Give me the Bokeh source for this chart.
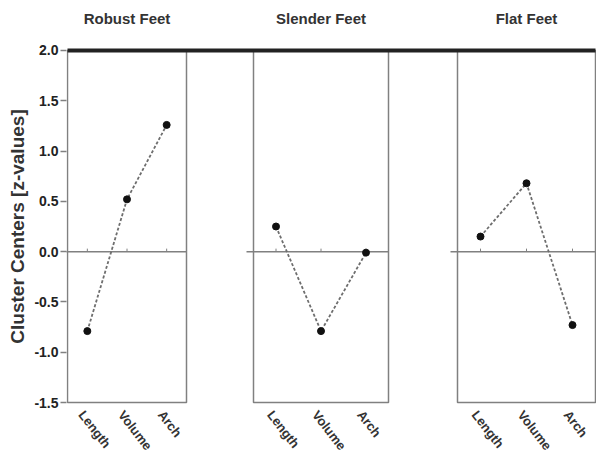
from bokeh.plotting import figure
from bokeh.models import Range1d, FixedTicker, PrintfTickFormatter
from bokeh.core.properties import value
from bokeh.embed import file_html
from bokeh.resources import INLINE

# ---- data ----
panels = ["Robust Feet", "Slender Feet", "Flat Feet"]
variables = ["Length", "Volume", "Arch"]
robust = [-0.79, 0.52, 1.26]
slender = [0.25, -0.79, -0.01]
flat = [0.15, 0.68, -0.73]
series = [robust, slender, flat]
y_ticks = [-1.5, -1.0, -0.5, 0.0, 0.5, 1.0, 1.5, 2.0]

# ---- layout (x in screen-pixel-like units) ----
panel_bounds = [(0, 119), (186, 321), (390, 528)]
y_lo, y_hi = -1.5, 2.0
FONT = value("Liberation Sans")

p = figure(width=596, height=452, output_backend="svg", toolbar_location=None,
           x_range=Range1d(-1, 529), y_range=Range1d(-1.997, 2.497),
           min_border_left=66, min_border_right=0, min_border_top=0, min_border_bottom=0)
p.outline_line_color = None
p.grid.visible = False
p.xaxis.visible = False
p.background_fill_color = "white"
p.border_fill_color = "white"

ya = p.yaxis[0]
ya.ticker = FixedTicker(ticks=y_ticks)
ya.formatter = PrintfTickFormatter(format="%.1f")
ya.axis_line_color = None
ya.major_tick_out = 6
ya.major_tick_in = 0
ya.minor_tick_out = 0
ya.minor_tick_in = 0
ya.major_tick_line_color = "#808080"
ya.major_tick_line_width = 1.5
ya.major_label_standoff = 2
ya.major_label_text_font = "Liberation Sans"
ya.major_label_text_font_style = "bold"
ya.major_label_text_font_size = "14px"
ya.major_label_text_color = "#222222"
ya.axis_label = "Cluster Centers [z-values]"
ya.axis_label_text_font = "Liberation Sans"
ya.axis_label_text_font_style = "bold"
ya.axis_label_text_font_size = "19px"
ya.axis_label_text_color = "#333333"
ya.axis_label_standoff = 3

lefts = [b[0] for b in panel_bounds]
rights = [b[1] for b in panel_bounds]

# panel boxes
p.quad(left=lefts, right=rights, bottom=[y_lo] * 3, top=[y_hi] * 3,
       fill_color=None, line_color="#808080", line_width=1.5)

# zero lines
p.segment(x0=[l - 7 for l in lefts], y0=[0] * 3, x1=rights, y1=[0] * 3,
          line_color="#808080", line_width=1.5)

# thick top line
p.segment(x0=[lefts[0]], y0=[y_hi], x1=[rights[-1]], y1=[y_hi],
          line_color="#222222", line_width=4)

cat_x_all, lab_all = [], []
for (l, r), vals, name in zip(panel_bounds, series, panels):
    w = (r - l) / len(variables)
    xs = [l + (i + 0.5) * w for i in range(len(variables))]
    cat_x_all += xs
    lab_all += variables
    # small ticks on zero line
    p.segment(x0=xs, y0=[0] * 3, x1=xs, y1=[0.03] * 3, line_color="#808080", line_width=1)
    p.line(xs, vals, line_color="#6e6e6e", line_width=1.8, line_dash="3 2")
    p.scatter(xs, vals, size=7, color="#111111")
    p.text(x=[(l + r) / 2], y=[2.318], text=[name], text_align="center", text_baseline="middle",
           text_font=FONT, text_font_style="bold", text_font_size="15px", text_color="#333333")

p.text(x=cat_x_all, y=[-1.55] * len(cat_x_all), text=lab_all, angle=-0.91,
       text_align="left", text_baseline="top", text_font=FONT, text_font_style="bold",
       text_font_size="13px", text_color="#333333")

open("out.html", "w").write(file_html(p, INLINE))
